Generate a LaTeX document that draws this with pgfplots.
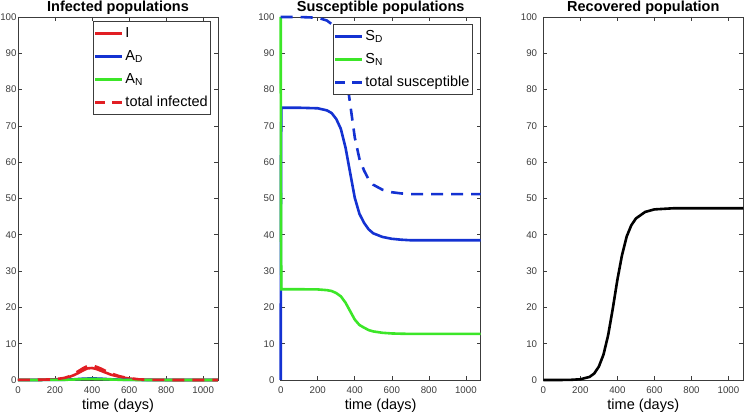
\documentclass[border=0pt]{standalone}
\usepackage{fontspec}
\setmainfont{Liberation Sans}
\usepackage{pgfplots}
\pgfplotsset{compat=1.18}
\definecolor{mred}{RGB}{225,30,35}
\definecolor{mblue}{RGB}{20,50,210}
\definecolor{mgreen}{RGB}{60,230,40}
\definecolor{axgray}{RGB}{60,60,60}

\pgfplotsset{
  panel/.style={
    scale only axis, width=200pt, height=363pt,
    xmin=0, xmax=1080, ymin=0, ymax=100,
    xtick={0,200,...,1000}, ytick={0,10,...,100},
    tick align=inside, tick pos=both, major tick length=4pt,
    axis line style={axgray, line width=0.6pt},
    every tick/.style={axgray, line width=0.6pt},
    /pgf/number format/assume math mode=true,
    /pgf/number format/1000 sep={},
    ticklabel style={font=\fontsize{9.7}{12}\selectfont, text=axgray},
    xticklabel style={anchor=base, yshift=-14pt},
    every axis title shift=0pt,
    title style={at={(0.5,1)}, anchor=base, yshift=5pt,
      font=\fontsize{14.5}{16}\selectfont\bfseries},
    xlabel={time (days)},
    xlabel style={at={(0.5,0)}, anchor=base, yshift=-29.5pt,
      font=\fontsize{14.5}{16}\selectfont},
    clip=false,
    legend cell align=left,
    legend style={draw=axgray, line width=0.6pt, inner xsep=1pt, inner ysep=3pt,
      row sep=4.5pt, font=\fontsize{14.5}{16}\selectfont,
      nodes={text height=11.5pt, text depth=3pt}},
    legend image code/.code={\draw[##1] (0pt,0pt) -- (27pt,0pt);},
  },
  curve/.style={line width=2.6pt},
}

\begin{document}
\begin{tikzpicture}
\path[use as bounding box] (0,0) rectangle (745pt,415pt);

% infected populations
\begin{axis}[panel, at={(18pt,35pt)}, anchor=south west,
  title={Infected populations},
  yticklabel style={xshift=2pt},
  legend style={at={(0.965,0.989)}, anchor=north east}]
\addplot[curve, mred] coordinates {
  (0,0.05) (100,0.05) (200,0.15) (250,0.45) (275,0.8) (300,1.3) (325,1.9)
  (350,2.6) (375,3.2) (400,3.3) (425,3.0) (450,2.5) (475,2.0) (500,1.5)
  (550,0.85) (600,0.4) (650,0.17) (700,0.07) (800,0.01) (1080,0)
};
\addlegendentry{I}
\addplot[curve, mblue] coordinates {
  (0,0) (200,0.02) (250,0.07) (300,0.18) (350,0.35) (400,0.45) (450,0.35)
  (500,0.2) (550,0.1) (600,0.04) (700,0) (1080,0)
};
\addlegendentry{A\textsubscript{D}}
\addplot[curve, mgreen] coordinates {
  (0,0) (200,0.02) (250,0.05) (300,0.13) (350,0.25) (400,0.3) (450,0.24)
  (500,0.14) (550,0.06) (600,0.02) (700,0) (1080,0)
};
\addlegendentry{A\textsubscript{N}}
\addplot[curve, mred, dash pattern=on 12pt off 8pt,
  legend image post style={dash pattern=on 10pt off 7pt}] coordinates {
  (0,0.05) (100,0.05) (200,0.19) (250,0.57) (275,0.97) (300,1.61) (325,2.4)
  (350,3.2) (375,3.85) (400,4.05) (425,3.6) (450,3.09) (475,2.45) (500,1.84)
  (550,1.01) (600,0.46) (650,0.19) (700,0.07) (800,0.01) (1080,0)
};
\addlegendentry{total infected}
\end{axis}

% susceptible populations
\begin{axis}[panel, at={(280.7pt,35pt)}, anchor=south west,
  title={Susceptible populations},
  yticklabel style={xshift=-2.7pt},
  legend style={at={(0.96,0.9815)}, anchor=north east}]
\addplot[curve, mblue] coordinates {
  (0,0) (1,40) (2,65) (4,75) (100,75) (200,74.85) (250,74.27) (275,73.54)
  (300,71.9) (325,69.16) (350,64.05) (375,57.1) (400,50.2) (425,45.8)
  (450,43.3) (475,41.5) (500,40.4) (550,39.4) (600,38.9) (650,38.65)
  (700,38.5) (1080,38.5)
};
\addlegendentry{S\textsubscript{D}}
\addplot[curve, mgreen] coordinates {
  (0,100) (1,60) (2,35) (4,25) (100,25) (200,24.95) (250,24.75) (275,24.51)
  (300,23.95) (325,23.03) (350,21.31) (375,18.97) (400,16.64) (425,15.16)
  (450,14.42) (475,13.75) (500,13.38) (550,13.0) (600,12.82) (650,12.75)
  (700,12.7) (1080,12.7)
};
\addlegendentry{S\textsubscript{N}}
\addplot[curve, mblue, dash pattern=on 12pt off 8pt,
  legend image post style={dash pattern=on 10pt off 7pt}] coordinates {
  (0,100) (100,100) (200,99.8) (250,99.02) (275,98.05) (300,95.85)
  (325,92.19) (350,85.36) (375,76.07) (400,66.84) (425,60.96) (450,57.72)
  (475,55.25) (500,53.78) (550,52.4) (600,51.72) (650,51.4) (700,51.2)
  (1080,51.2)
};
\addlegendentry{total susceptible}
\end{axis}

% recovered population
\begin{axis}[panel, at={(543.3pt,35pt)}, anchor=south west,
  title={Recovered population},
  yticklabel style={xshift=-2.7pt}]
\addplot[curve, black] coordinates {
  (0,0) (100,0.01) (150,0.05) (200,0.2) (250,0.85) (275,1.8) (300,3.7)
  (325,7.0) (350,12.3) (375,19.6) (400,27.6) (425,34.4) (450,39.5)
  (475,42.6) (500,44.5) (550,46.3) (600,47.0) (700,47.3) (1080,47.3)
};
\end{axis}
\end{tikzpicture}
\end{document}
